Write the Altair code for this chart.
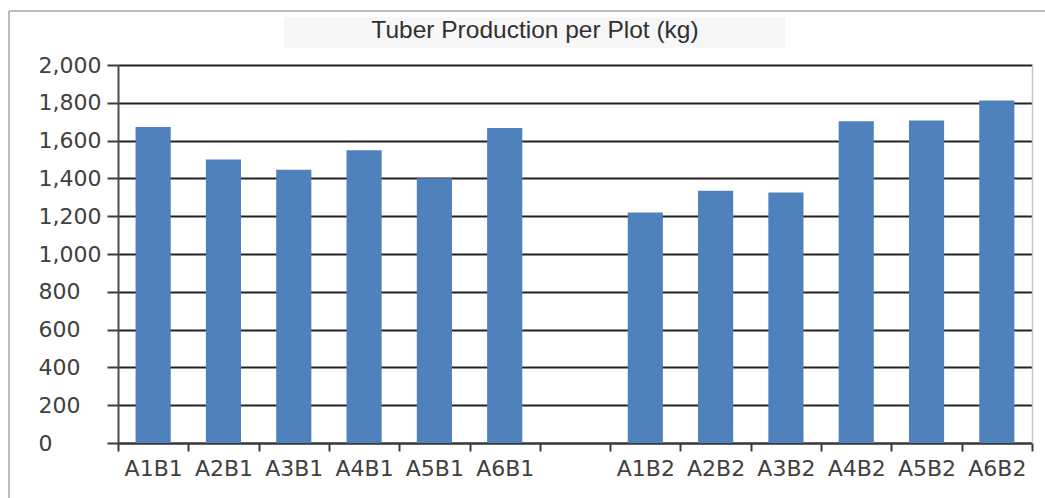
import altair as alt
import pandas as pd

# Treatment combinations and tuber yield per plot (kg)
treatments = ["A1B1", "A2B1", "A3B1", "A4B1", "A5B1", "A6B1",
              "A1B2", "A2B2", "A3B2", "A4B2", "A5B2", "A6B2"]
yields = [1672, 1500, 1446, 1549, 1401, 1667,
          1220, 1335, 1325, 1702, 1707, 1812]

# Category order on the x axis, with an empty slot separating the B1 and B2 groups
x_order = treatments[:6] + [" "] + treatments[6:]
y_ticks = list(range(0, 2001, 200))
title_text = "Tuber Production per Plot (kg)"

df = pd.DataFrame({"treatment": treatments, "yield": yields})

W, H = 914, 378
PAD_L, PAD_T = 118, 65

label_font = "DejaVu Sans"
label_color = "#404040"

x_enc = alt.X(
    "treatment:N",
    sort=x_order,
    scale=alt.Scale(domain=x_order, paddingInner=0, paddingOuter=0),
    axis=alt.Axis(
        title=None, labelAngle=0, tickBand="extent", grid=False,
        labelFont=label_font, labelFontSize=22, labelColor=label_color,
        labelPadding=7, tickSize=8, tickWidth=2, tickColor="#3a3a3a",
        domainColor="#3a3a3a", domainWidth=2,
    ),
)
y_scale = alt.Scale(domain=[0, 2000], nice=False, zero=True)

bars = alt.Chart(df).mark_bar(
    color="#4F81BD", width=alt.RelativeBandSize(0.5)
).encode(
    x=x_enc,
    y=alt.Y(
        "yield:Q", scale=y_scale,
        axis=alt.Axis(
            title=None, values=y_ticks, format=",d",
            labelFont=label_font, labelFontSize=22, labelColor=label_color,
            labelAlign="left", labelPadding=69,
            tickSize=11, tickWidth=2, tickColor="#3a3a3a",
            domainColor="#4a4a4a", domainWidth=2,
            grid=True, gridColor="#222222", gridWidth=1.8,
        ),
    ),
)

# Light border on the right side of the plot area
right_edge = alt.Chart(df).mark_bar(opacity=0).encode(
    x=alt.X("treatment:N", sort=x_order),
    y=alt.Y(
        "yield:Q", scale=y_scale,
        axis=alt.Axis(
            orient="right", title=None, labels=False, ticks=False,
            grid=False, domainColor="#c8c8c8", domainWidth=1.5,
        ),
    ),
)

one = pd.DataFrame({"k": [0]})

# Outer frame of the chart
frame_left = alt.Chart(one).mark_rule(color="#a8a8a8", strokeWidth=1.5).encode(
    x=alt.value(9 - PAD_L), y=alt.value(11 - PAD_T), y2=alt.value(498 - PAD_T)
)
frame_top = alt.Chart(one).mark_rule(color="#a8a8a8", strokeWidth=1.5).encode(
    x=alt.value(9 - PAD_L), x2=alt.value(1045 - PAD_L), y=alt.value(11 - PAD_T)
)

# Faint panel behind the title, and the title itself
title_box = alt.Chart(one).mark_rect(fill="#f7f7f7").encode(
    x=alt.value(284 - PAD_L), x2=alt.value(785 - PAD_L),
    y=alt.value(17 - PAD_T), y2=alt.value(48 - PAD_T),
)
title = alt.Chart(one).mark_text(
    font="Liberation Sans", fontSize=24.5, color="#303030",
    align="center", baseline="alphabetic",
).encode(
    x=alt.value(535 - PAD_L), y=alt.value(38 - PAD_T), text=alt.value(title_text)
)

chart = alt.layer(
    frame_left, frame_top, title_box, title, bars, right_edge
).resolve_axis(
    y="independent"
).properties(
    width=W,
    height=H,
    autosize=alt.AutoSizeParams(type="none"),
    padding={"left": PAD_L, "top": PAD_T, "right": 1045 - PAD_L - W, "bottom": 498 - PAD_T - H},
).configure_view(
    stroke=None
).configure(
    background="white"
)

chart.save("out.html", embed_options={"renderer": "svg", "actions": False})
